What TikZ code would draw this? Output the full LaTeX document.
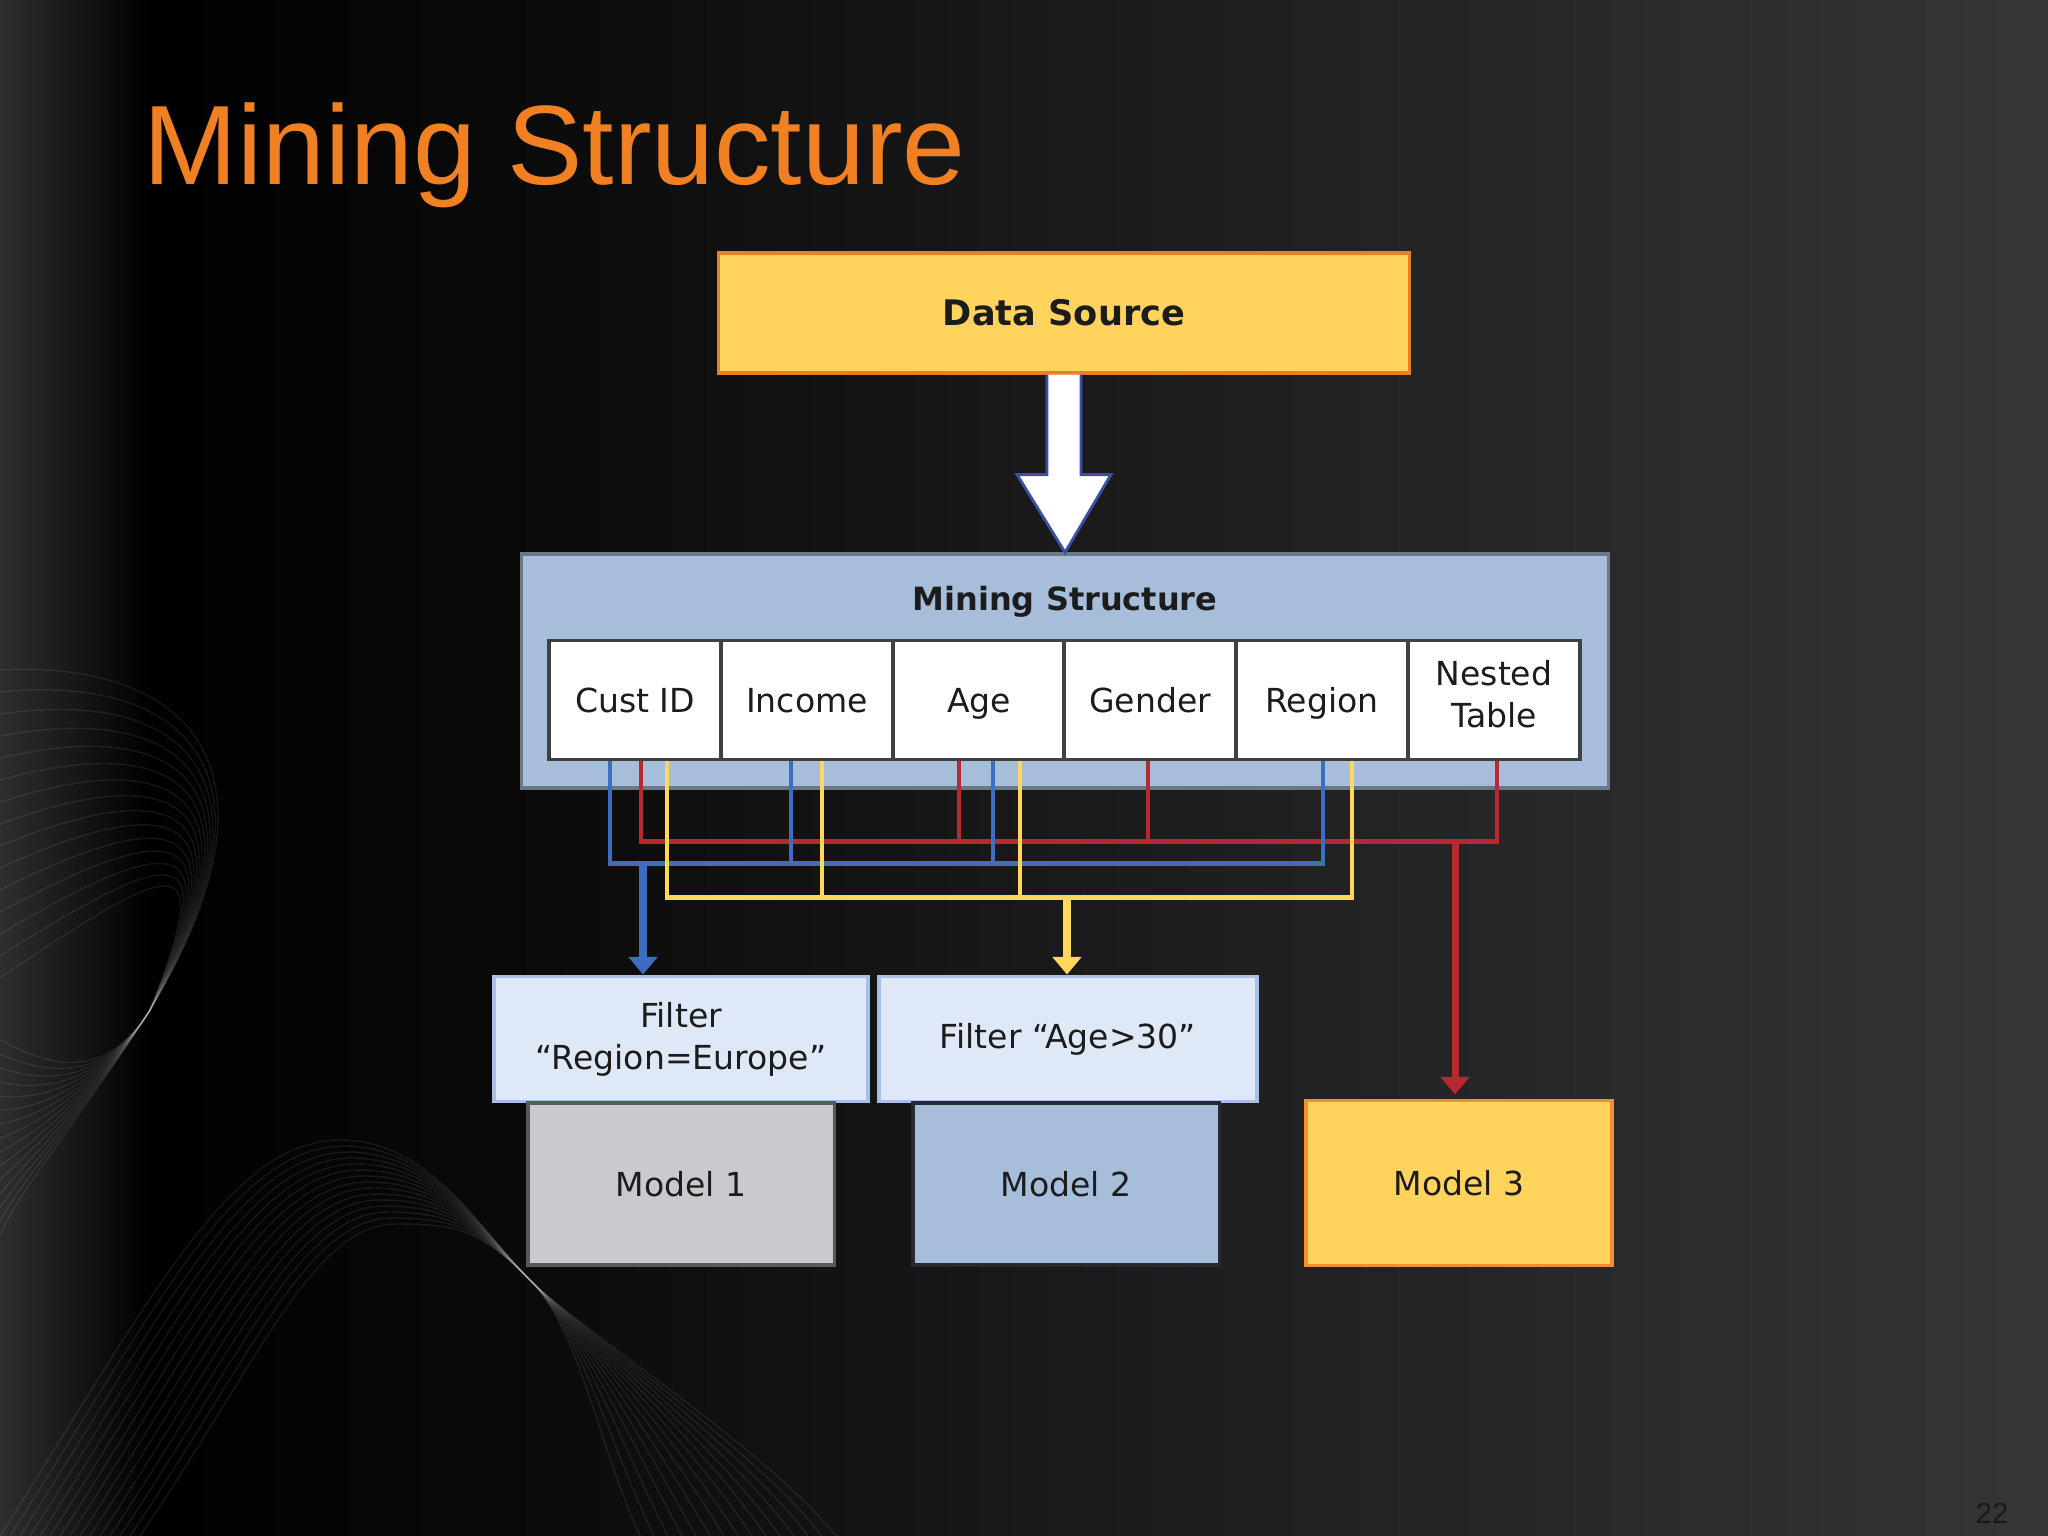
\documentclass[tikz,border=0pt]{standalone}
\usepackage{fontspec}
\setmainfont{DejaVu Sans}
\newfontfamily\titlefont{Liberation Sans}
\usetikzlibrary{arrows.meta,calc,positioning}

\definecolor{titleorange}{RGB}{240,128,34}
\definecolor{bgleft}{RGB}{46,46,46}
\definecolor{bgright}{RGB}{54,53,56}
\definecolor{textdark}{RGB}{28,28,28}
\definecolor{sourcefill}{RGB}{255,211,92}
\definecolor{sourceline}{RGB}{232,128,42}
\definecolor{structfill}{RGB}{166,190,218}
\definecolor{structline}{RGB}{110,120,132}
\definecolor{cellline}{RGB}{64,64,64}
\definecolor{filterfill}{RGB}{223,232,246}
\definecolor{filterline}{RGB}{169,192,228}
\definecolor{modelgray}{RGB}{202,202,206}
\definecolor{wireblue}{RGB}{61,109,192}
\definecolor{wirered}{RGB}{184,40,48}
\definecolor{wireyellow}{RGB}{255,215,90}
\definecolor{arrowblue}{RGB}{58,80,168}

\begin{document}
\begin{tikzpicture}[x=0.01cm, y=-0.01cm, >=Triangle,
   box/.style={rectangle, inner sep=0, align=center, text=textdark,
      font=\fontsize{9.4}{12}\selectfont},
   field/.style={box, fill=white, draw=cellline, line width=0.9pt,
      minimum width=1.72cm, minimum height=1.19cm,
      execute at begin node=\rule{0pt}{10.6pt}, execute at end node=\strut},
   filterbox/.style={box, fill=filterfill, draw=filterline, line width=1.1pt,
      minimum height=1.25cm},
   model/.style={box, line width=0.9pt, minimum width=3.06cm, minimum height=1.62cm},
   wire/.style={line width=1.4pt},
   bluewire/.style={wire, draw=wireblue},
   redwire/.style={wire, draw=wirered},
   yellowwire/.style={wire, draw=wireyellow},
   tap/.style={line width=2pt, -{Triangle[width=8pt,length=5pt]}}]

   \useasboundingbox (0,0) rectangle (2048,1536);
   % slide background
   \shade[left color=bgleft, right color=black] (0,0) rectangle (150,1536);
   \shade[left color=black, right color=bgright] (150,0) rectangle (2048,1536);
   \begin{scope}[draw=white, opacity=0.08, line width=0.4pt]
      \foreach \i in {0,...,14} {
         \draw (0,{670+22*\i}) .. controls (180,{660+14*\i}) and ({300-6*\i},{760+6*\i}) .. (150,1010)
            .. controls (100,1090) and ({40-2*\i},{1060+10*\i}) .. (0,{1040+14*\i});
         \draw ({10*\i},1536) .. controls ({150+8*\i},{1300+4*\i}) and ({230+6*\i},{1140+6*\i}) .. ({340+4*\i},{1140+6*\i})
            .. controls ({430+2*\i},{1140+6*\i}) and (480,1230) .. (530,1280)
            .. controls (580,1330) and ({600+12*\i},1450) .. ({640+14*\i},1536);
      }
   \end{scope}

   \node (title) at (143,184) [anchor=base west, inner sep=0, text=titleorange,
      font=\titlefont\fontsize{32.1}{38}\selectfont] {Mining Structure};
   \node (page) at (2009,1523) [anchor=base east, inner sep=0, text=black!90,
      font=\titlefont\fontsize{8.3}{10}\selectfont] {22};

   % source and structure
   \node (ds) at (1064,313) [box, fill=sourcefill, draw=sourceline, line width=0.9pt,
      minimum width=6.9cm, minimum height=1.2cm,
      font=\bfseries\fontsize{10}{12}\selectfont] {Data Source};
   \node (ms) at (1065,671) [box, fill=structfill, draw=structline, line width=0.9pt,
      minimum width=10.86cm, minimum height=2.34cm] {};
   \node (mstitle) at (1065,602) [box, font=\bfseries\fontsize{9.1}{11}\selectfont] {Mining Structure};
   \filldraw[fill=white, draw=arrowblue, line width=0.8pt]
      ($(ds.south)+(-17,0)$) -- ++(0,100) -- ++(-30,0) -- (ms.north)
      -- ($(ds.south)+(47,100)$) -- ++(-30,0) -- ($(ds.south)+(17,0)$);

   \node (cust) at (635,700) [field] {Cust ID};
   \node (income) at (807,700) [field] {Income};
   \node (age) at (979,700) [field] {Age};
   \node (gender) at (1150,700) [field] {Gender};
   \node (region) at (1322,700) [field] {Region};
   \node (nested) at (1494,700) [field, execute at end node={\vspace*{-2.8pt}}] {Nested\\Table};

   % filters and models
   \node (flt1) at (681,1039) [filterbox, minimum width=3.73cm] {Filter\\“Region=Europe”};
   \node (flt2) at (1068,1039) [filterbox, minimum width=3.77cm] {Filter “Age>30”};
   \node (m1) at (681,1184) [model, fill=modelgray, draw=black!65] {Model 1};
   \node (m2) at (1066,1184) [model, fill=structfill, draw=black!65!structline] {Model 2};
   \node (m3) at (1459,1183) [model, fill=sourcefill, draw=sourceline!80!sourcefill,
      line width=1.1pt, minimum height=1.65cm] {Model 3};

   % wires from the columns
   \draw[redwire] ($(cust.south)+(6,0)$) -- ++(0,80) -| ($(nested.south)+(3,0)$);
   \draw[redwire] ($(age.south)+(-20,0)$) -- ++(0,80);
   \draw[redwire] ($(gender.south)+(-2,0)$) -- ++(0,80);
   \draw[bluewire] ($(cust.south)+(-25,0)$) -- ++(0,102) -| ($(region.south)+(1,0)$);
   \draw[bluewire] ($(income.south)+(-16,0)$) -- ++(0,102);
   \draw[bluewire] ($(age.south)+(14,0)$) -- ++(0,102);
   \draw[yellowwire] ($(cust.south)+(32,0)$) -- ++(0,136) -| ($(region.south)+(30,0)$);
   \draw[yellowwire] ($(income.south)+(15,0)$) -- ++(0,136);
   \draw[yellowwire] ($(age.south)+(41,0)$) -- ++(0,136);

   \coordinate (bluetap) at (643,862);
   \coordinate (yellowtap) at (1067,896);
   \coordinate (redtap) at (1455,840);
   \draw[tap, wireblue] (bluetap) -- (bluetap |- flt1.north);
   \draw[tap, wireyellow] (yellowtap) -- (yellowtap |- flt2.north);
   \draw[tap, wirered] (redtap) -- ($(redtap |- m3.north)+(0,-4)$);

\end{tikzpicture}
\end{document}
